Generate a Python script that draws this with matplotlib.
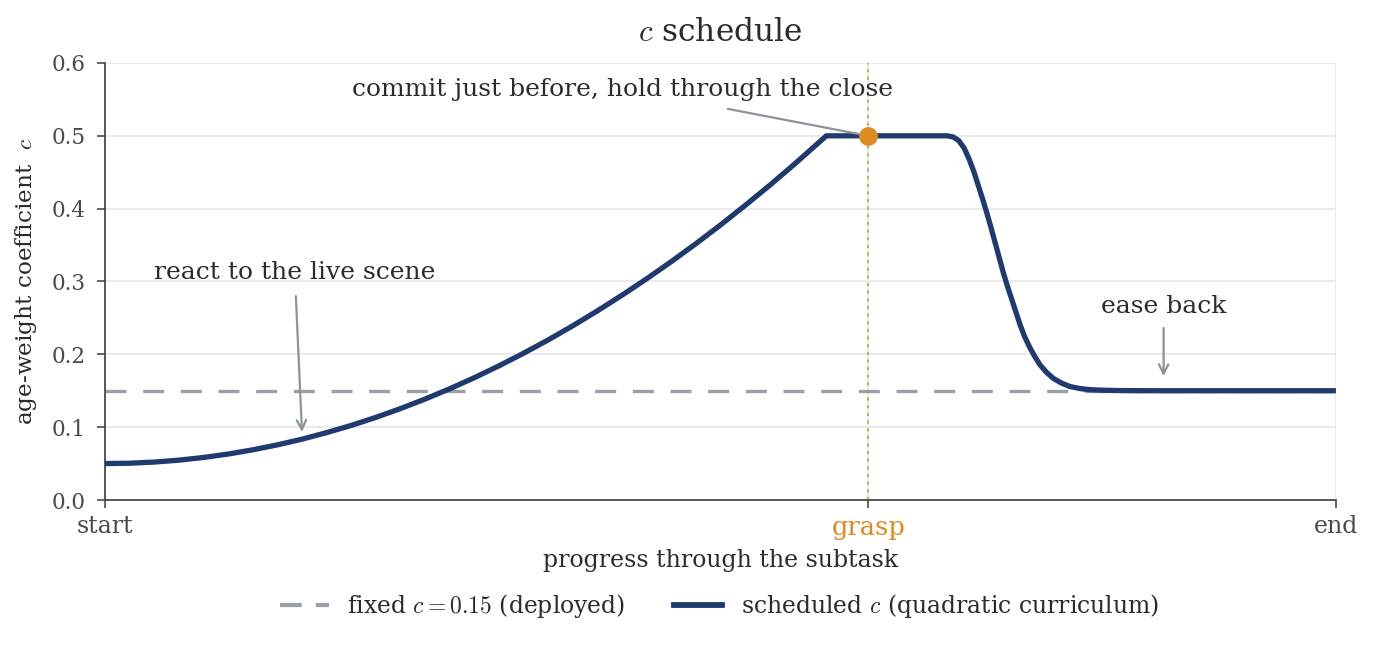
import matplotlib
matplotlib.use("Agg")
import matplotlib.pyplot as plt
from matplotlib.lines import Line2D

plt.rcParams['font.family'] = ['DejaVu Serif']
plt.rcParams['mathtext.fontset'] = 'cm'

# ---- data ----
progress = [0.00, 0.02, 0.04, 0.06, 0.08, 0.10, 0.12, 0.14, 0.16, 0.18, 0.20,
            0.22, 0.24, 0.26, 0.28, 0.30, 0.32, 0.34, 0.36, 0.38, 0.40, 0.42,
            0.44, 0.46, 0.48, 0.50, 0.52, 0.54, 0.56, 0.586,
            0.62, 0.684, 0.689, 0.6935, 0.698, 0.7020, 0.706, 0.7094, 0.7128,
            0.7162, 0.7196, 0.723, 0.7264, 0.7297, 0.733, 0.7366, 0.740, 0.7433,
            0.747, 0.7514, 0.7555, 0.7595, 0.765, 0.7704, 0.777, 0.7839, 0.792,
            0.800, 0.811, 0.822, 0.84, 0.86, 1.00]
scheduled_c = [0.0500, 0.0505, 0.0521, 0.0547, 0.0584, 0.0631, 0.0689, 0.0757,
               0.0835, 0.0925, 0.1024, 0.1134, 0.1255, 0.1386, 0.1527, 0.1679,
               0.1842, 0.2015, 0.2198, 0.2392, 0.2597, 0.2812, 0.3037, 0.3273,
               0.3519, 0.3776, 0.4044, 0.4321, 0.4610, 0.5000,
               0.500, 0.500, 0.4985, 0.4935, 0.483, 0.468, 0.450, 0.432, 0.414,
               0.395, 0.375, 0.354, 0.333, 0.3125, 0.294, 0.2756, 0.258, 0.241,
               0.2245, 0.209, 0.1965, 0.1857, 0.175, 0.167, 0.1605, 0.1558, 0.153,
               0.1515, 0.1507, 0.1503, 0.1501, 0.150, 0.150]
fixed_c = 0.15
grasp_x = 0.62
x_tick_pos = [0.0, grasp_x, 1.0]
x_tick_labels = ["start", "grasp", "end"]
y_ticks = [0.0, 0.1, 0.2, 0.3, 0.4, 0.5, 0.6]

NAVY = "#1f3a6e"
ORANGE = "#dc8b20"
GREY = "#9a9fa8"
ARROW = "#8d929b"
GRID = "#e6e6eb"
TEXT = "#2b2b2b"
TICK = "#4a4a4a"

fig = plt.figure(figsize=(13.75, 6.46), dpi=100)
ax = fig.add_axes([0.0764, 0.226, 0.8952, 0.6765])

ax.set_xlim(0, 1)
ax.set_ylim(0, 0.6)

ax.grid(True, color=GRID, lw=1.2, zorder=0)
ax.set_axisbelow(True)

ax.axhline(fixed_c, color=GREY, lw=2.4, dashes=(6.3, 5.0), zorder=2)
ax.plot(progress, scheduled_c, color=NAVY, lw=3.8, zorder=3,
        solid_joinstyle='round', solid_capstyle='butt')
ax.axvline(grasp_x, color=ORANGE, lw=1.1, ls=(0, (2, 3)), zorder=2.5)
ax.plot([grasp_x], [0.5], 'o', color=ORANGE, ms=13.5, zorder=5, mec='none')

for s in ['top', 'right']:
    ax.spines[s].set_visible(False)
for s in ['left', 'bottom']:
    ax.spines[s].set_color(TICK)
    ax.spines[s].set_linewidth(1.3)

ax.set_xticks(x_tick_pos)
ax.set_xticklabels(x_tick_labels)
ax.set_yticks(y_ticks)
ax.set_yticklabels([f"{v:.1f}" for v in y_ticks])
ax.tick_params(axis='both', colors=TICK, labelsize=15.5, length=6, width=1.2)
ax.tick_params(axis='y', pad=8)
ax.tick_params(axis='x', labelsize=17, pad=4.5)
ax.get_xticklabels()[1].set_color(ORANGE)
ax.get_xticklabels()[1].set_fontsize(18.5)

ax.set_xlabel("progress through the subtask", fontsize=17, color=TEXT, labelpad=7)
ax.set_ylabel(r"age-weight coefficient  $c$", fontsize=16.7, color=TEXT, labelpad=9)
ax.set_title(r"$c$ schedule", fontsize=22.5, color=TEXT, pad=16)

ann_fs = 18
arrow_kw = dict(arrowstyle='->', color=ARROW, lw=1.6, shrinkA=0, shrinkB=0,
                mutation_scale=17)

ax.text(0.42, 0.563, "commit just before, hold through the close", fontsize=ann_fs,
        color=TEXT, ha='center', va='center')
ax.annotate("", xy=(grasp_x, 0.5), xytext=(0.506, 0.537),
            arrowprops=dict(arrowstyle='-', color=ARROW, lw=1.6, shrinkA=0, shrinkB=0))

ax.text(0.154, 0.312, "react to the live scene", fontsize=ann_fs,
        color=TEXT, ha='center', va='center')
ax.annotate("", xy=(0.160, 0.0934), xytext=(0.155, 0.280), arrowprops=arrow_kw)

ax.text(0.860, 0.266, "ease back", fontsize=ann_fs,
        color=TEXT, ha='center', va='center')
ax.annotate("", xy=(0.860, 0.170), xytext=(0.860, 0.236), arrowprops=arrow_kw)

handles = [Line2D([], [], color=GREY, lw=3.0, dashes=(5.2, 3.4)),
           Line2D([], [], color=NAVY, lw=4.2)]
labels = [r"fixed $c = 0.15$ (deployed)", r"scheduled $c$ (quadratic curriculum)"]
leg = fig.legend(handles, labels, loc='center', bbox_to_anchor=(0.5235, 0.062),
                 ncol=2, frameon=False, fontsize=16.95, handlelength=2.05,
                 columnspacing=2.05, handletextpad=0.8)
for t in leg.get_texts():
    t.set_color(TEXT)

fig.savefig("out.png", dpi=100)
